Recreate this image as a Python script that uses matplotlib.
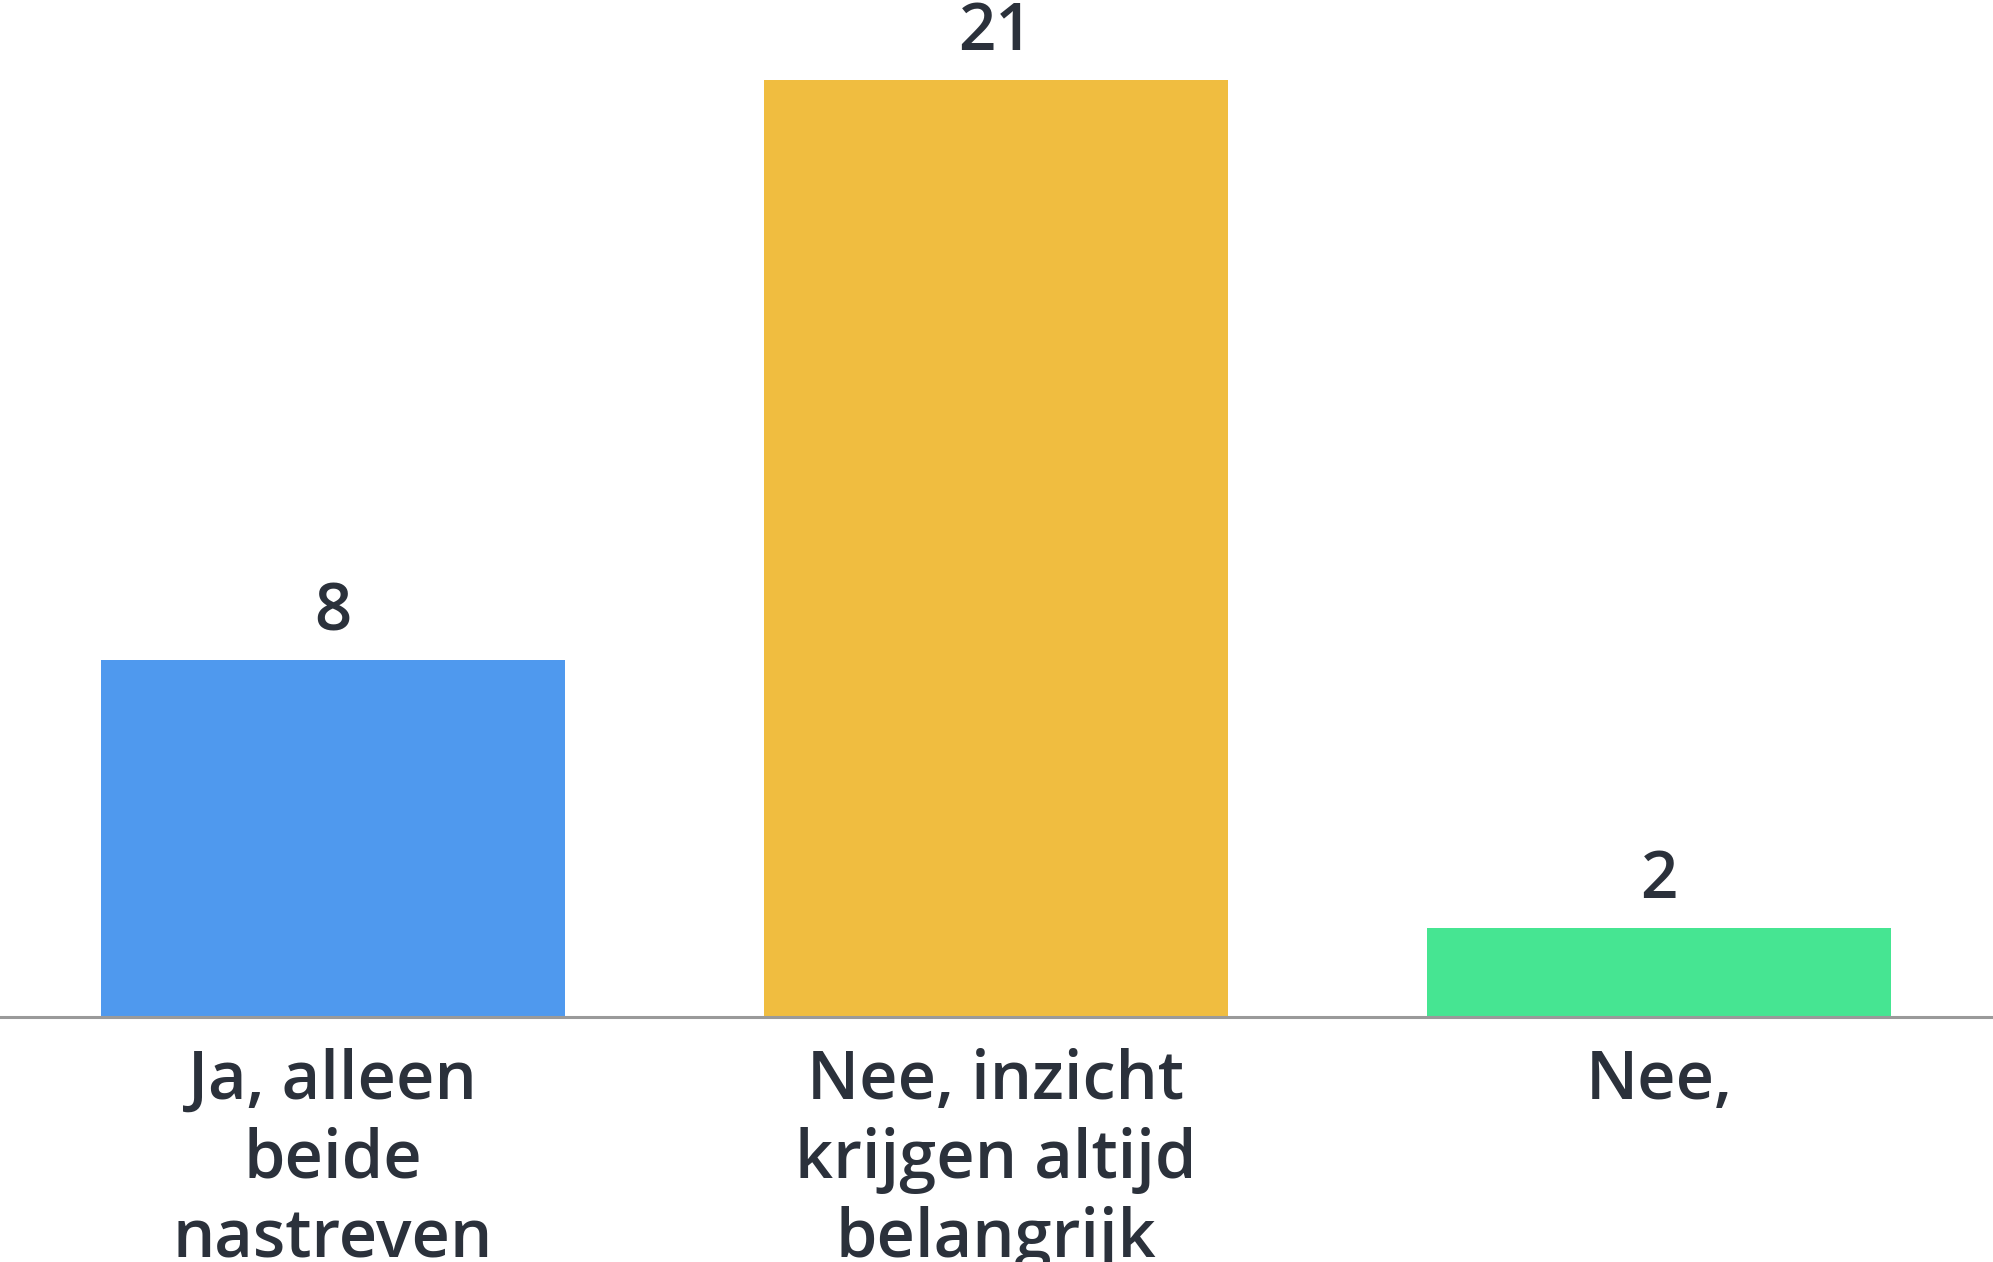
import matplotlib
matplotlib.use('Agg')
import matplotlib.pyplot as plt

# data
categories = ['Ja, alleen\nbeide\nnastreven',
              'Nee, inzicht\nkrijgen altijd\nbelangrijk',
              'Nee,']
counts = [8, 21, 2]
colors = ['#4f99ee', '#f0bd40', '#46e592']

text_color = '#2b313b'
plt.rcParams['font.family'] = ['Open Sans', 'DejaVu Sans']

fig = plt.figure(figsize=(19.93, 12.62), dpi=100)
ax = fig.add_axes([0.0, 1 - 1017 / 1262, 1.0, 1017 / 1262])

x = range(len(counts))
bars = ax.bar(x, counts, width=0.70, color=colors, zorder=2)

for rect, val in zip(bars, counts):
    ax.annotate(str(val), (rect.get_x() + rect.get_width() / 2, rect.get_height()),
                xytext=(0, 10), textcoords='offset points',
                ha='center', va='bottom', fontsize=47, color=text_color,
                fontweight='semibold')

ax.set_xlim(-0.502, 2.504)
ax.set_ylim(0, 22.8)

for s in ['top', 'right', 'left']:
    ax.spines[s].set_visible(False)
ax.spines['bottom'].set_color('#9a9a9a')
ax.spines['bottom'].set_linewidth(2.2)
ax.spines['bottom'].set_zorder(3)

ax.set_yticks([])
ax.set_xticks(list(x))
ax.set_xticklabels(categories, fontsize=48, color=text_color,
                   fontweight='semibold', linespacing=1.24)
ax.tick_params(axis='x', length=0, pad=22)

fig.savefig('out.png', dpi=100)
